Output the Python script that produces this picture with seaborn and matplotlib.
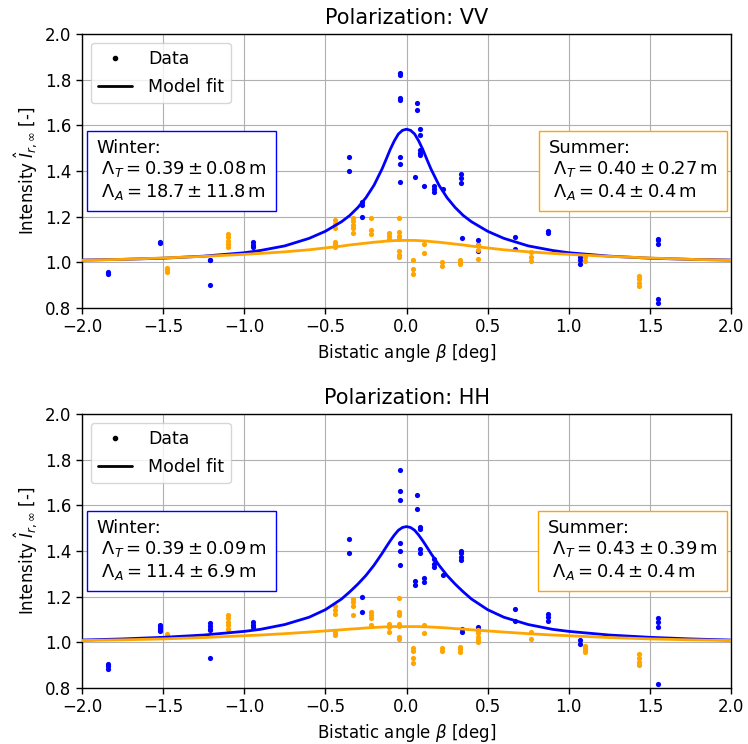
import matplotlib
matplotlib.use("Agg")
from matplotlib import pyplot as plt
from matplotlib.lines import Line2D
import pandas as pd
import seaborn as sns

# measured points: (bistatic angle, [intensities at that angle])
VV_WINTER = [(-1.84, [0.95, 0.957]), (-1.52, [1.087, 1.083]),
             (-1.21, [1.012, 1.008, 0.90]), (-0.944, [1.09, 1.075, 1.065]),
             (-0.354, [1.461, 1.40]), (-0.276, [1.264, 1.25, 1.197]),
             (-0.04, [1.83, 1.82, 1.72, 1.71, 1.46, 1.43, 1.35]),
             (0.063, [1.698, 1.665]), (0.083, [1.586, 1.557, 1.49, 1.48, 1.47]),
             (0.052, [1.374]), (0.11, [1.335]), (0.17, [1.333, 1.32, 1.307]),
             (0.223, [1.32]), (0.336, [1.386, 1.369, 1.348]), (0.34, [1.107]),
             (0.44, [1.096, 1.078, 1.048]), (0.669, [1.11, 1.057]),
             (0.87, [1.135, 1.128]), (1.07, [1.025, 1.012, 0.994]),
             (1.552, [1.104, 1.096, 1.082, 0.84, 0.824])]
VV_SUMMER = [(-1.474, [0.975, 0.965, 0.958]),
             (-1.10, [1.125, 1.11, 1.095, 1.08, 1.065]),
             (-0.44, [1.185, 1.17, 1.15, 1.09, 1.08, 1.065]),
             (-0.33, [1.195, 1.18, 1.165, 1.15, 1.13]),
             (-0.22, [1.194, 1.14, 1.126]), (-0.11, [1.13, 1.115, 1.10]),
             (-0.044, [1.194, 1.132, 1.115, 1.104, 1.05, 1.03, 1.022]),
             (0.04, [1.008, 0.97, 0.95]), (0.11, [1.082, 1.043]),
             (0.22, [1.0, 0.985]), (0.33, [1.012, 1.003, 0.994]),
             (0.44, [1.074, 1.056, 1.016]), (0.77, [1.044, 1.025, 1.007]),
             (1.10, [1.022, 1.007]), (1.43, [0.94, 0.925, 0.91, 0.895])]
HH_WINTER = [(-1.84, [0.905, 0.895, 0.885]), (-1.52, [1.078, 1.068, 1.058, 1.05]),
             (-1.21, [1.085, 1.07, 1.06, 1.052, 0.93]),
             (-0.944, [1.09, 1.075, 1.065]), (-0.354, [1.451, 1.392]),
             (-0.276, [1.198, 1.132]),
             (-0.04, [1.756, 1.661, 1.624, 1.433, 1.40, 1.338]),
             (0.063, [1.645, 1.583]), (0.083, [1.507, 1.496, 1.41, 1.39]),
             (0.052, [1.269, 1.25]), (0.11, [1.28, 1.264]),
             (0.17, [1.363, 1.345, 1.33]), (0.223, [1.294]),
             (0.336, [1.40, 1.39, 1.375, 1.36]), (0.34, [1.059, 1.044]),
             (0.44, [1.069, 1.052]), (0.669, [1.144, 1.093]),
             (0.87, [1.125, 1.11, 1.095]), (1.07, [1.01, 0.993]),
             (1.552, [1.107, 1.09, 1.065, 0.817])]
HH_SUMMER = [(-1.474, [1.037]), (-1.10, [1.12, 1.105, 1.09, 1.075, 1.06]),
             (-0.44, [1.16, 1.14, 1.125, 1.05, 1.04, 1.03]),
             (-0.33, [1.19, 1.175, 1.16, 1.12]),
             (-0.22, [1.135, 1.12, 1.105, 1.075]), (-0.11, [1.08, 1.065, 1.045]),
             (-0.044, [1.194, 1.132, 1.12, 1.08, 1.07, 1.025, 1.015]),
             (0.04, [0.975, 0.96, 0.93, 0.91]), (0.11, [1.074, 1.04]),
             (0.22, [0.975, 0.963]), (0.33, [0.978, 0.97, 0.958]),
             (0.44, [1.055, 1.04, 1.025, 1.01, 1.0]), (0.77, [1.044, 1.015]),
             (1.10, [0.985, 0.975, 0.965, 0.958]),
             (1.43, [0.948, 0.93, 0.915, 0.9])]

# model fit curves, read at |beta| (symmetric about 0)
FIT_X = [0, 0.025, 0.05, 0.075, 0.1, 0.125, 0.15, 0.2, 0.25, 0.3, 0.35, 0.4,
         0.5, 0.6, 0.75, 0.9, 1.0, 1.25, 1.5, 1.75, 2.0]
VV_WINTER_FIT = [1.583, 1.578, 1.562, 1.532, 1.495, 1.452, 1.41, 1.338,
                 1.283, 1.24, 1.205, 1.178, 1.136, 1.105, 1.072, 1.052,
                 1.042, 1.027, 1.018, 1.013, 1.01]
VV_SUMMER_FIT = [1.096, 1.096, 1.096, 1.095, 1.094, 1.093, 1.091, 1.088,
                 1.084, 1.08, 1.076, 1.071, 1.063, 1.055, 1.046, 1.039,
                 1.035, 1.026, 1.019, 1.013, 1.009]
HH_WINTER_FIT = [1.507, 1.503, 1.491, 1.47, 1.445, 1.418, 1.39, 1.338,
                 1.293, 1.255, 1.221, 1.19, 1.143, 1.11, 1.078, 1.057,
                 1.048, 1.032, 1.022, 1.015, 1.01]
HH_SUMMER_FIT = [1.069, 1.069, 1.069, 1.069, 1.068, 1.068, 1.067, 1.065,
                 1.063, 1.06, 1.058, 1.055, 1.05, 1.045, 1.038, 1.032,
                 1.029, 1.021, 1.015, 1.011, 1.008]

WINTER_TXT = {"VV": ("0.39", "0.08", "18.7", "11.8"),
              "HH": ("0.39", "0.09", "11.4", "6.9")}
SUMMER_TXT = {"VV": ("0.40", "0.27", "0.4", "0.4"),
              "HH": ("0.43", "0.39", "0.4", "0.4")}


def points(groups):
    rows = [(x, y) for x, ys in groups for y in ys]
    return pd.DataFrame(rows, columns=["beta", "I"])


def curve(vals):
    xs = [-v for v in FIT_X[::-1]] + FIT_X[1:]
    ys = vals[::-1] + vals[1:]
    return pd.DataFrame({"beta": xs, "I": ys})


def box_text(name, p):
    return (name + ":\n"
            + r" $\Lambda_T = %s \pm %s\,\mathrm{m}$" % (p[0], p[1]) + "\n"
            + r" $\Lambda_A = %s \pm %s\,\mathrm{m}$" % (p[2], p[3]))


sns.set_theme(style="ticks", rc={"axes.grid": True, "grid.color": "#b0b0b0",
                                 "grid.linewidth": 0.8,
                                 "axes.edgecolor": "black",
                                 "axes.linewidth": 1.0,
                                 "text.color": "black",
                                 "axes.labelcolor": "black",
                                 "xtick.color": "black",
                                 "ytick.color": "black"})
plt.rcParams["font.family"] = ["DejaVu Sans"]
plt.rcParams["mathtext.fontset"] = "dejavusans"

fig, axes = plt.subplots(2, 1, figsize=(7.48, 7.44), dpi=100)
fig.subplots_adjust(left=82 / 748, right=731 / 748, top=1 - 34 / 744,
                    bottom=1 - 688 / 744, hspace=0.387)

panels = [("VV", VV_WINTER, VV_SUMMER, VV_WINTER_FIT, VV_SUMMER_FIT),
          ("HH", HH_WINTER, HH_SUMMER, HH_WINTER_FIT, HH_SUMMER_FIT)]

for ax, (pol, win, sum_, wfit, sfit) in zip(axes, panels):
    sns.scatterplot(data=points(win), x="beta", y="I", ax=ax, color="blue",
                    s=14, linewidth=0, zorder=3)
    sns.scatterplot(data=points(sum_), x="beta", y="I", ax=ax,
                    color="orange", s=14, linewidth=0, zorder=3)
    sns.lineplot(data=curve(wfit), x="beta", y="I", ax=ax, color="blue",
                 linewidth=2, zorder=4)
    sns.lineplot(data=curve(sfit), x="beta", y="I", ax=ax, color="orange",
                 linewidth=2, zorder=4)

    ax.set_xlim(-2, 2)
    ax.set_ylim(0.8, 2.0)
    ax.set_xticks([-2, -1.5, -1, -0.5, 0, 0.5, 1, 1.5, 2])
    ax.set_yticks([0.8, 1.0, 1.2, 1.4, 1.6, 1.8, 2.0])
    ax.tick_params(labelsize=12, length=4, width=1)
    ax.set_title("Polarization: " + pol, fontsize=15, pad=7)
    ax.set_xlabel(r"Bistatic angle $\beta$ [deg]", fontsize=12)
    ax.set_ylabel(r"Intensity $\hat{I}_{r,\infty}$ [-]", fontsize=12)

    ax.text(0.022, 0.618, box_text("Winter", WINTER_TXT[pol]),
            transform=ax.transAxes, ha="left", va="top", fontsize=12.9,
            linespacing=1.17, zorder=6,
            bbox=dict(boxstyle="square,pad=0.5", fc="white", ec="blue"))
    ax.text(0.98, 0.618, box_text("Summer", SUMMER_TXT[pol]),
            transform=ax.transAxes, ha="right", va="top", fontsize=12.9,
            multialignment="left", linespacing=1.17, zorder=6,
            bbox=dict(boxstyle="square,pad=0.5", fc="white", ec="orange"))

    handles = [Line2D([], [], color="black", marker=".", linestyle="none"),
               Line2D([], [], color="black", linewidth=2)]
    ax.legend(handles, ["Data", "Model fit"], loc="upper left", fontsize=12.5,
              frameon=True, framealpha=0.8, edgecolor="#cccccc",
              handletextpad=0.9, labelspacing=0.6)

fig.savefig("out.png", dpi=100)
